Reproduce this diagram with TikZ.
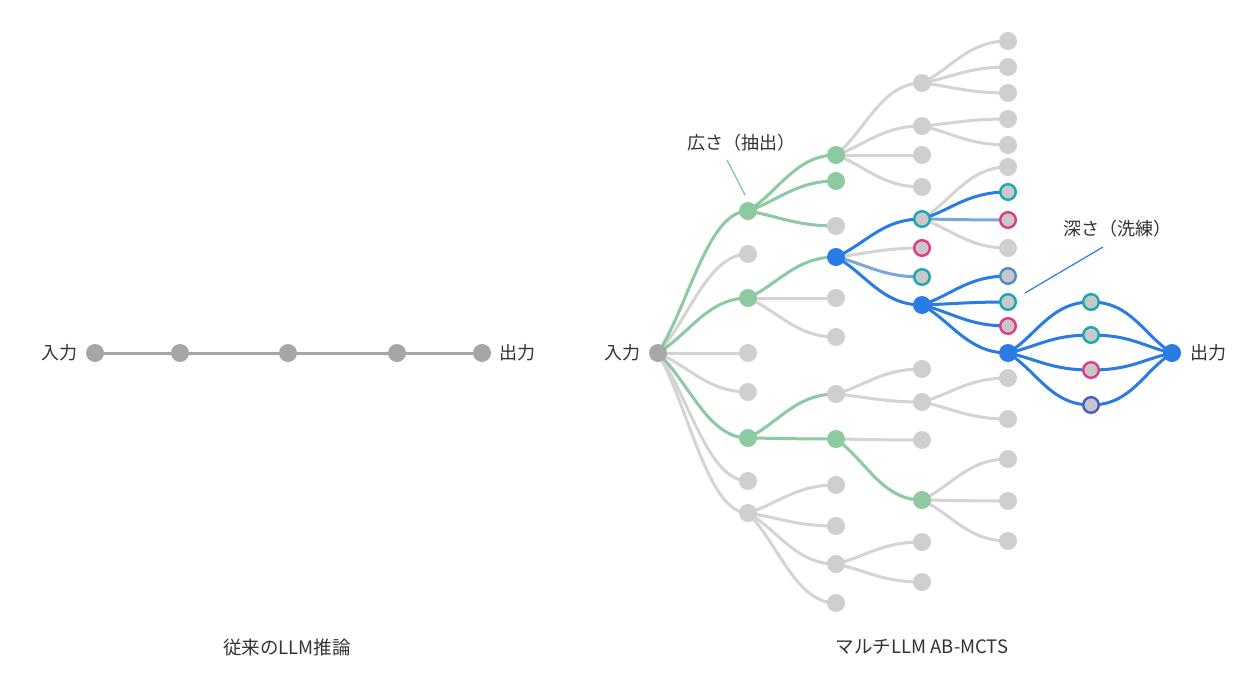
\documentclass[tikz,border=0pt]{standalone}
\usepackage{fontspec}
\setmainfont{Noto Sans CJK JP}
\usetikzlibrary{calc}
\pgfdeclarelayer{back}
\pgfdeclarelayer{bg}
\pgfsetlayers{back,bg,main}
\definecolor{ngray}{HTML}{CFCFCF}
\definecolor{egray}{HTML}{D4D4D4}
\definecolor{rootgray}{HTML}{A8A8A8}
\definecolor{lgray}{HTML}{A6A6A6}
\definecolor{ngreen}{HTML}{8DC9A1}
\definecolor{nblue}{HTML}{2A7BE4}
\definecolor{lblue}{HTML}{7AA6E0}
\definecolor{rteal}{HTML}{1AA8B0}
\definecolor{rpink}{HTML}{DE3A8A}
\definecolor{rsky}{HTML}{4A8DD4}
\definecolor{rindigo}{HTML}{4A5CC4}
\definecolor{rfill}{HTML}{C8C8C8}
\definecolor{txt}{HTML}{333333}
\tikzset{
  x=1pt, y=-1pt,
  dot/.style={circle, inner sep=0pt, minimum size=18pt},
  gn/.style={dot, fill=ngray},
  grn/.style={dot, fill=ngreen},
  bln/.style={dot, fill=nblue},
  rootn/.style={dot, fill=rootgray},
  leftn/.style={dot, fill=lgray},
  ring/.style={circle, inner sep=0pt, minimum size=15.6pt, fill=rfill, line width=2.4pt, draw=#1},
  ge/.style={draw=egray, line width=3pt},
  gre/.style={draw=ngreen, line width=3pt},
  ble/.style={draw=nblue, line width=3pt},
  lbe/.style={draw=lblue, line width=3pt},
  lbl/.style={text=txt, font=\fontsize{18}{21}\selectfont, inner sep=0pt},
  capt/.style={text=txt, font=\fontsize{18.5}{21}\selectfont, inner sep=0pt},
}
\newcommand\cn[3]{\draw[#3] (#1.center) .. controls ($(#1.center)!0.35!(#2.center)$) and ($(#2.center)+(-40,0)$) .. (#2.center);}
\newcommand\cm[3]{\draw[#3] (#1.center) .. controls ($(#1.center)+(40,0)$) and ($(#2.center)!0.35!(#1.center)$) .. (#2.center);}
\begin{document}
\begin{tikzpicture}
\useasboundingbox (0,0) rectangle (1233,677);
\begin{pgfonlayer}{back}
\fill[white] (0,0) rectangle (1233,677);
\end{pgfonlayer}

% ---------- left panel ----------
\node[leftn] (l1) at (95,353) {};
\node[leftn] (l2) at (180,353) {};
\node[leftn] (l3) at (288,353) {};
\node[leftn] (l4) at (397,353) {};
\node[leftn] (l5) at (482,353) {};
\begin{pgfonlayer}{bg}
\draw[draw=lgray, line width=3pt] (l1.center) -- (l2.center) -- (l3.center) -- (l4.center) -- (l5.center);
\end{pgfonlayer}
\node[lbl, anchor=east] (lin) at (78,353) {入力};
\node[lbl, anchor=west] (lout) at (499,353) {出力};
\node[capt] (capl) at (287,647) {従来のLLM推論};

% ---------- right panel ----------
\node[rootn] (r) at (658,353) {};
\node[lbl, anchor=east] (rin) at (641,353) {入力};

% column 1
\node[grn] (a211) at (748,211) {};
\node[gn]  (a254) at (748,254) {};
\node[grn] (a298) at (748,298) {};
\node[gn]  (a353) at (748,353) {};
\node[gn]  (a392) at (748,392) {};
\node[grn] (a438) at (748,438) {};
\node[gn]  (a481) at (748,481) {};
\node[gn]  (a513) at (748,513) {};

% column 2
\node[grn] (b155) at (836,155) {};
\node[grn] (b181) at (836,181) {};
\node[gn]  (b226) at (836,226) {};
\node[bln] (b257) at (836,257) {};
\node[gn]  (b298) at (836,298) {};
\node[gn]  (b338) at (836,337) {};
\node[gn]  (b395) at (836,394) {};
\node[grn] (b438) at (836,439) {};
\node[gn]  (b485) at (836,485) {};
\node[gn]  (b525) at (836,526) {};
\node[gn]  (b563) at (836,564) {};
\node[gn]  (b603) at (836,603) {};

% column 3
\node[gn]  (c83)  at (922,83) {};
\node[gn]  (c127) at (922,126) {};
\node[gn]  (c155) at (922,155) {};
\node[gn]  (c187) at (922,187) {};
\node[ring=rteal] (c219) at (922,219) {};
\node[ring=rpink] (c248) at (922,248) {};
\node[ring=rteal] (c277) at (922,277) {};
\node[bln] (c305) at (922,305) {};
\node[gn]  (c369) at (922,369) {};
\node[gn]  (c402) at (922,402) {};
\node[gn]  (c440) at (922,440) {};
\node[grn] (c500) at (922,500) {};
\node[gn]  (c542) at (922,542) {};
\node[gn]  (c582) at (922,582) {};

% column 4
\node[gn]  (d41)  at (1008,41) {};
\node[gn]  (d67)  at (1008,67) {};
\node[gn]  (d93)  at (1008,93) {};
\node[gn]  (d119) at (1008,119) {};
\node[gn]  (d145) at (1008,145) {};
\node[gn]  (d167) at (1008,167) {};
\node[ring=rteal] (d192) at (1008,192) {};
\node[ring=rpink] (d220) at (1008,220) {};
\node[gn]  (d248) at (1008,248) {};
\node[ring=rsky]  (d276) at (1008,276) {};
\node[ring=rteal] (d302) at (1008,302) {};
\node[ring=rpink] (d326) at (1008,326) {};
\node[bln] (d353) at (1008,353) {};
\node[gn]  (d378) at (1008,378) {};
\node[gn]  (d419) at (1008,419) {};
\node[gn]  (d459) at (1008,459) {};
\node[gn]  (d501) at (1008,501) {};
\node[gn]  (d541) at (1008,541) {};

% column 5
\node[ring=rteal]   (e302) at (1091,302) {};
\node[ring=rteal]   (e336) at (1091,335) {};
\node[ring=rpink]   (e370) at (1091,370) {};
\node[ring=rindigo] (e405) at (1091,405) {};

% output
\node[bln] (o) at (1172,353) {};
\node[lbl, anchor=west] (rout) at (1190,353) {出力};

% labels
\node[lbl] (wide) at (741,143) {広さ（抽出）};
\node[lbl] (deep) at (1117,229) {深さ（洗練）};
\coordinate (wideA) at (727,160);
\coordinate (wideB) at (745,195);
\coordinate (deepA) at (1103,247);
\coordinate (deepB) at (1025,293);
\draw[draw=ngreen, line width=1.4pt] (wideA) -- (wideB);
\draw[draw=nblue, line width=1.2pt] (deepA) -- (deepB);

\node[capt] (capr) at (922,647) {マルチLLM AB-MCTS};

\begin{pgfonlayer}{bg}
% gray edges
\cn{r}{a254}{ge} \cn{r}{a353}{ge} \cn{r}{a392}{ge} \cn{r}{a481}{ge} \cn{r}{a513}{ge}
\cn{a298}{b298}{ge} \cn{a298}{b338}{ge}
\cn{a513}{b485}{ge} \cn{a513}{b525}{ge} \cn{a513}{b563}{ge} \cn{a513}{b603}{ge}
\cn{b155}{c83}{ge} \cn{b155}{c127}{ge} \cn{b155}{c155}{ge} \cn{b155}{c187}{ge}
\cn{b257}{c248}{ge}
\cn{b395}{c369}{ge} \cn{b395}{c402}{ge}
\cn{b438}{c440}{ge}
\cn{b563}{c542}{ge} \cn{b563}{c582}{ge}
\cn{c83}{d41}{ge} \cn{c83}{d67}{ge} \cn{c83}{d93}{ge}
\cn{c127}{d119}{ge} \cn{c127}{d145}{ge}
\cn{c219}{d167}{ge} \cn{c219}{d248}{ge}
\cn{c402}{d378}{ge} \cn{c402}{d419}{ge}
\cn{c500}{d459}{ge} \cn{c500}{d501}{ge} \cn{c500}{d541}{ge}
% green edges
\cn{r}{a211}{gre} \cn{r}{a298}{gre} \cn{r}{a438}{gre}
\cn{a211}{b155}{gre} \cn{a211}{b181}{gre} \cn{a211}{b226}{gre}
\cn{a298}{b257}{gre}
\cn{a438}{b395}{gre} \cn{a438}{b438}{gre}
\cn{b438}{c500}{gre}
% light blue edges
\cn{b257}{c277}{lbe}
\cn{c219}{d220}{lbe}
% blue edges
\cn{b257}{c219}{ble} \cn{b257}{c305}{ble}
\cn{c219}{d192}{ble}
\cn{c305}{d276}{ble} \cn{c305}{d302}{ble} \cn{c305}{d326}{ble} \cn{c305}{d353}{ble}
\cn{d353}{e302}{ble} \cn{d353}{e336}{ble} \cn{d353}{e370}{ble} \cn{d353}{e405}{ble}
\cm{e302}{o}{ble} \cm{e336}{o}{ble} \cm{e370}{o}{ble} \cm{e405}{o}{ble}
\end{pgfonlayer}
\end{tikzpicture}
\end{document}
